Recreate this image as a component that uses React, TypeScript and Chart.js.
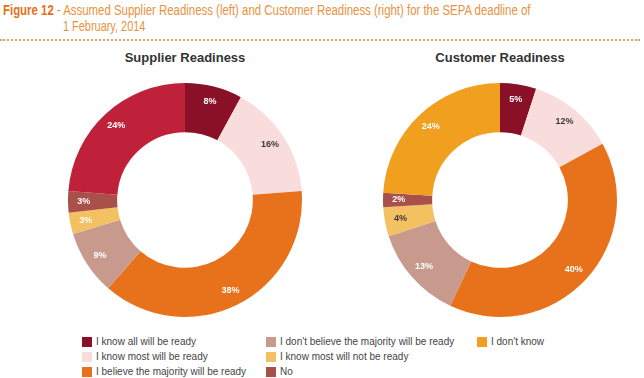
import React, { useEffect, useRef } from "react";
import { Chart, registerables } from "chart.js";

Chart.register(...registerables);

const categories = [
  "I know all will be ready",
  "I know most will be ready",
  "I believe the majority will be ready",
  "I don't believe the majority will be ready",
  "I know most will not be ready",
  "No",
  "I don't know",
];

const supplierValues = [8, 16, 38, 9, 3, 3, 24];
const customerValues = [5, 12, 40, 13, 4, 2, 24];

const legendColors = ["#8a1027", "#f9dcdc", "#e8721c", "#c89a8e", "#f3c062", "#a9504a", "#f0a01e"];
const supplierColors = ["#8a1027", "#f9dcdc", "#e8721c", "#c89a8e", "#f3c062", "#a9504a", "#c0213a"];
const customerColors = ["#8a1027", "#f9dcdc", "#e8721c", "#c89a8e", "#f3c062", "#a9504a", "#f0a01e"];
const supplierLabelColors = ["#fff", "#3a3a3a", "#fff", "#fff", "#fff", "#fff", "#fff"];
const customerLabelColors = ["#fff", "#3a3a3a", "#fff", "#fff", "#3a3a3a", "#fff", "#fff"];

const labelPlugin = {
  id: "sliceLabels",
  afterDatasetsDraw(chart: any) {
    const ctx = chart.ctx;
    const meta = chart.getDatasetMeta(0);
    const ds = chart.data.datasets[0];
    const colors = (chart.options.plugins as any).sliceLabels.colors;
    ctx.save();
    ctx.font = "bold 9px 'Liberation Sans', Arial, sans-serif";
    ctx.textAlign = "center";
    ctx.textBaseline = "middle";
    meta.data.forEach((arc: any, i: number) => {
      const p = arc.getProps(["x", "y", "startAngle", "endAngle", "innerRadius", "outerRadius"], true);
      const mid = (p.startAngle + p.endAngle) / 2;
      const r = p.innerRadius + (p.outerRadius - p.innerRadius) * 0.68;
      ctx.fillStyle = colors[i];
      ctx.fillText(ds.data[i] + "%", p.x + Math.cos(mid) * r, p.y + Math.sin(mid) * r);
    });
    ctx.restore();
  },
};

function Donut({ values, colors, labelColors, left }: any) {
  const ref = useRef<HTMLCanvasElement>(null);
  useEffect(() => {
    const chart = new Chart(ref.current!, {
      type: "doughnut",
      data: {
        labels: categories,
        datasets: [{ data: values, backgroundColor: colors, borderWidth: 0 }],
      },
      options: {
        responsive: false,
        animation: false,
        devicePixelRatio: 1,
        cutout: "58%",
        layout: { padding: 8 },
        plugins: {
          legend: { display: false },
          tooltip: { enabled: false },
          sliceLabels: { colors: labelColors },
        } as any,
      },
      plugins: [labelPlugin],
    });
    return () => chart.destroy();
  }, []);
  return (
    <canvas
      ref={ref}
      width={250}
      height={250}
      style={{ position: "absolute", left, top: 75, width: 250, height: 250 }}
    />
  );
}

export default function App() {
  const font = "'Liberation Sans', Arial, Helvetica, sans-serif";
  const legendCols = [82, 266, 477];
  const legendRows = [342, 357, 372];
  return (
    <div style={{ position: "absolute", left: 0, top: 0, width: 644, height: 378, background: "#fff", fontFamily: font, overflow: "hidden" }}>
      <div style={{ position: "absolute", left: 3, top: 2, fontSize: 14, color: "#e8923e", whiteSpace: "nowrap", transformOrigin: "0 0", transform: "scaleX(0.815)", fontFamily: font }}>
        <span style={{ color: "#e0711c", fontWeight: "bold" }}>Figure 12</span> - Assumed Supplier Readiness (left) and Customer Readiness (right) for the SEPA deadline of
      </div>
      <div style={{ position: "absolute", left: 63, top: 18, fontSize: 14, color: "#e8923e", whiteSpace: "nowrap", transformOrigin: "0 0", transform: "scaleX(0.78)" }}>
        1 February, 2014
      </div>
      <div style={{ position: "absolute", left: 0, top: 39, width: 640, height: 0, borderTop: "2px dotted #e8a060" }} />
      <div style={{ position: "absolute", left: 85, width: 200, top: 50, textAlign: "center", fontSize: 13, fontWeight: "bold", color: "#333" }}>Supplier Readiness</div>
      <div style={{ position: "absolute", left: 400, width: 200, top: 50, textAlign: "center", fontSize: 13, fontWeight: "bold", color: "#333" }}>Customer Readiness</div>
      <Donut values={supplierValues} colors={supplierColors} labelColors={supplierLabelColors} left={60} />
      <Donut values={customerValues} colors={customerColors} labelColors={customerLabelColors} left={375} />
      {categories.map((name, k) => {
        const col = Math.floor(k / 3);
        const row = k % 3;
        return (
          <div key={name} style={{ position: "absolute", left: legendCols[col], top: legendRows[row] - 6, height: 12, display: "flex", alignItems: "center", whiteSpace: "nowrap" }}>
            <div style={{ width: 10, height: 10, background: legendColors[k], marginRight: 4 }} />
            <span style={{ fontSize: 10, color: "#444", lineHeight: "12px" }}>{name}</span>
          </div>
        );
      })}
    </div>
  );
}
